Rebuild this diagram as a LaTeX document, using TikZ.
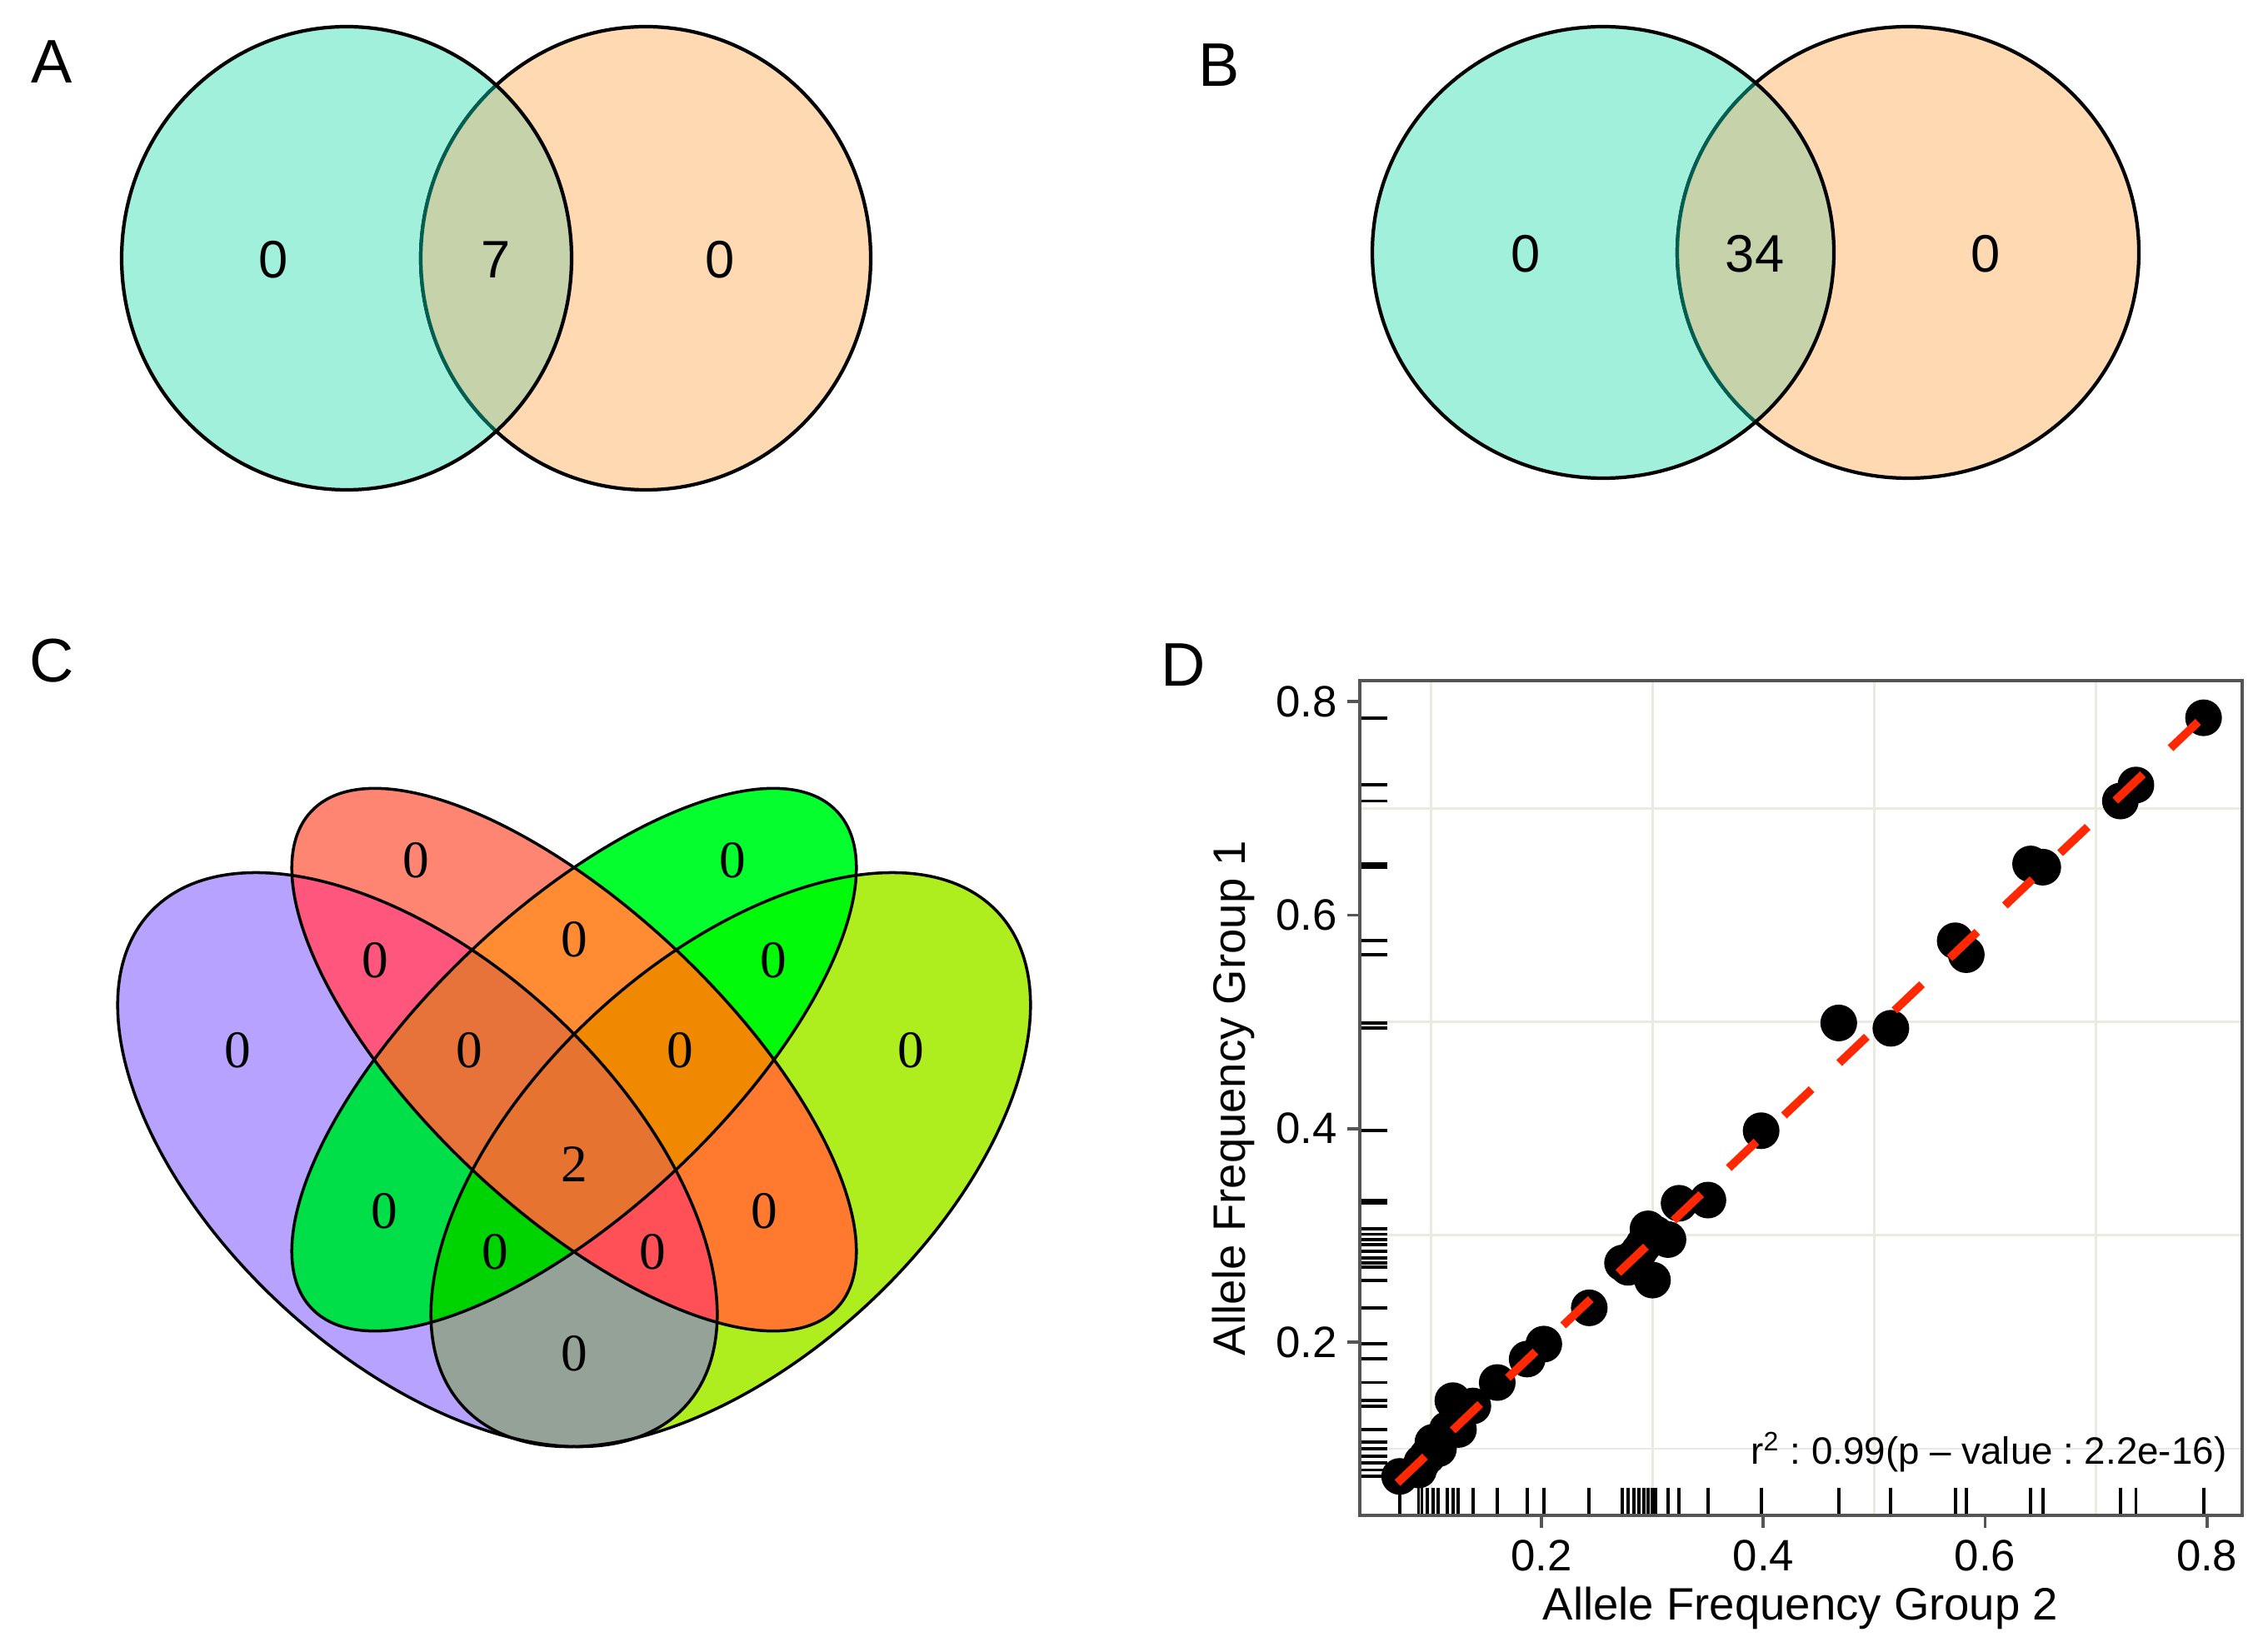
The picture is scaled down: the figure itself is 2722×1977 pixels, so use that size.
\documentclass[tikz,border=0pt]{standalone}
\usepackage{fontspec}
\setmainfont{Liberation Sans}
\newfontfamily\vennserif{Liberation Serif}
\usetikzlibrary{positioning}

% two-set colours
\definecolor{tealA}{RGB}{160,240,220}
\definecolor{peachA}{RGB}{255,217,178}
\definecolor{lensA}{RGB}{197,210,170}
\definecolor{lensedge}{RGB}{0,95,80}
% four-set colours
\definecolor{cP}{RGB}{183,162,255}
\definecolor{cR}{RGB}{255,133,115}
\definecolor{cG}{RGB}{5,255,46}
\definecolor{cY}{RGB}{174,238,30}
\definecolor{cPR}{RGB}{255,86,126}
\definecolor{cPG}{RGB}{0,222,72}
\definecolor{cPY}{RGB}{148,162,152}
\definecolor{cRG}{RGB}{255,140,50}
\definecolor{cRY}{RGB}{255,122,46}
\definecolor{cGY}{RGB}{0,250,10}
\definecolor{cPRG}{RGB}{232,115,58}
\definecolor{cPRY}{RGB}{255,80,88}
\definecolor{cPGY}{RGB}{0,212,0}
\definecolor{cRGY}{RGB}{240,136,0}
\definecolor{cAll}{RGB}{230,115,47}
% plot colours
\definecolor{gridc}{RGB}{234,234,224}
\definecolor{framec}{RGB}{85,85,85}
\definecolor{fitc}{RGB}{255,40,0}

\tikzset{
  panel/.style={font=\fontsize{21}{25}\selectfont, inner sep=0pt},
  vnum/.style={font=\fontsize{18}{21}\selectfont, inner sep=0pt},
  cnum/.style={font=\vennserif\fontsize{18}{21}\selectfont, inner sep=0pt},
  ticklab/.style={font=\fontsize{15}{18}\selectfont, inner sep=0pt},
  axtitle/.style={font=\fontsize{15.5}{18}\selectfont, inner sep=0pt},
  vline/.style={line width=1.2pt, black},
  cline/.style={draw=black, line width=1pt},
  gridln/.style={line width=0.8pt, gridc},
  rugln/.style={line width=1.1pt, black},
  frameln/.style={line width=1.1pt, framec},
  fitln/.style={line width=2.8pt, fitc, dash pattern=on 13pt off 13pt},
}

% two circles: left x, right x, y, x radius, y radius
\newcommand{\twovenn}[5]{%
  \fill[peachA] (#2,#3) ellipse [x radius=#4, y radius=#5];
  \fill[tealA] (#1,#3) ellipse [x radius=#4, y radius=#5];
  \draw[vline] (#2,#3) ellipse [x radius=#4, y radius=#5];
  \begin{scope}
    \clip (#1,#3) ellipse [x radius=#4, y radius=#5];
    \fill[lensA] (#2,#3) ellipse [x radius=#4, y radius=#5];
    \draw[vline, lensedge] (#2,#3) ellipse [x radius=#4, y radius=#5];
  \end{scope}
  \draw[vline] (#1,#3) ellipse [x radius=#4, y radius=#5];
}

% the four ellipses of panel C
\newcommand{\ellP}[1][]{\path[#1, rotate around={-42.7:(501,1392)}] (501,1392) ellipse [x radius=437, y radius=239];}
\newcommand{\ellR}[1][]{\path[#1, rotate around={-43.4:(689,1272)}] (689,1272) ellipse [x radius=434, y radius=180];}
\newcommand{\ellG}[1][]{\path[#1, rotate around={43.4:(689,1272)}] (689,1272) ellipse [x radius=434, y radius=180];}
\newcommand{\ellY}[1][]{\path[#1, rotate around={42.7:(877,1392)}] (877,1392) ellipse [x radius=437, y radius=239];}

\newcommand{\snpdata}{0.072/0.074, 0.089/0.080, 0.092/0.087, 0.097/0.093, 0.102/0.106,
  0.107/0.100, 0.115/0.118, 0.120/0.145, 0.125/0.118, 0.138/0.140, 0.160/0.162,
  0.187/0.184, 0.202/0.198, 0.243/0.232, 0.273/0.274, 0.278/0.270, 0.283/0.279,
  0.288/0.285, 0.292/0.291, 0.296/0.306, 0.300/0.258, 0.303/0.301, 0.314/0.296,
  0.324/0.330, 0.350/0.333, 0.398/0.398, 0.468/0.499, 0.515/0.494, 0.573/0.576,
  0.583/0.563, 0.641/0.648, 0.652/0.645, 0.722/0.707, 0.736/0.722, 0.797/0.785}

\begin{document}
\begin{tikzpicture}[x=0.01cm, y=-0.01cm]
  \useasboundingbox (0,0) rectangle (2722,1977);
  \fill[white] (0,0) rectangle (2722,1977);

  % panel labels
  \node[panel] (labA) at (62,74) {A};
  \node[panel] (labB) at (1463,78) {B};
  \node[panel] (labC) at (62,793) {C};
  \node[panel] (labD) at (1420,798) {D};

  % A
  \twovenn{416}{775}{310}{270}{278}
  \node[vnum] (a1) at (328,312) {0};
  \node[vnum] (a2) at (595,312) {7};
  \node[vnum] (a3) at (864,312) {0};

  % B
  \twovenn{1924}{2290}{303}{277}{271}
  \node[vnum] (b1) at (1831,305) {0};
  \node[vnum] (b2) at (2106,305) {34};
  \node[vnum] (b3) at (2383,305) {0};

  % C
  \ellP[fill=cP] \ellR[fill=cR] \ellG[fill=cG] \ellY[fill=cY]
  \begin{scope}\ellP[clip]\ellR[fill=cPR]\end{scope}
  \begin{scope}\ellP[clip]\ellG[fill=cPG]\end{scope}
  \begin{scope}\ellP[clip]\ellY[fill=cPY]\end{scope}
  \begin{scope}\ellR[clip]\ellG[fill=cRG]\end{scope}
  \begin{scope}\ellR[clip]\ellY[fill=cRY]\end{scope}
  \begin{scope}\ellG[clip]\ellY[fill=cGY]\end{scope}
  \begin{scope}\ellP[clip]\ellR[clip]\ellG[fill=cPRG]\end{scope}
  \begin{scope}\ellP[clip]\ellR[clip]\ellY[fill=cPRY]\end{scope}
  \begin{scope}\ellP[clip]\ellG[clip]\ellY[fill=cPGY]\end{scope}
  \begin{scope}\ellR[clip]\ellG[clip]\ellY[fill=cRGY]\end{scope}
  \begin{scope}\ellP[clip]\ellR[clip]\ellG[clip]\ellY[fill=cAll]\end{scope}
  \ellP[cline] \ellR[cline] \ellG[cline] \ellY[cline]

  \node[cnum] (c1) at (285,1261) {0};
  \node[cnum] (c2) at (499,1033) {0};
  \node[cnum] (c3) at (879,1033) {0};
  \node[cnum] (c4) at (1093,1261) {0};
  \node[cnum] (c5) at (450,1153) {0};
  \node[cnum] (c6) at (689,1128) {0};
  \node[cnum] (c7) at (928,1153) {0};
  \node[cnum] (c8) at (563,1261) {0};
  \node[cnum] (c9) at (816,1261) {0};
  \node[cnum] (c10) at (689,1398) {2};
  \node[cnum] (c11) at (461,1454) {0};
  \node[cnum] (c12) at (917,1454) {0};
  \node[cnum] (c13) at (594,1503) {0};
  \node[cnum] (c14) at (783,1503) {0};
  \node[cnum] (c15) at (689,1625) {0};

  % D
  \begin{scope}[shift={(1584,1867)}, x=13.3cm, y=12.8cm]
    \foreach \g in {0.1,0.3,0.5,0.7} {
      \draw[gridln] (\g,0.0375) -- (\g,0.8195);
      \draw[gridln] (0.0361,\g) -- (0.8316,\g);
    }
    \foreach \px/\py in \snpdata {
      \draw[rugln] (\px,0.0375) -- ++(0,0.33cm);
      \draw[rugln] (0.0361,\py) -- ++(0.33cm,0);
    }
    \foreach \px/\py in \snpdata
      \fill (\px,\py) circle [radius=0.22cm];
    \draw[fitln] (0.070,0.068) -- (0.797,0.786);
    \draw[frameln] (0.0361,0.0375) rectangle (0.8316,0.8195);
    \foreach \v/\n in {0.2/2,0.4/4,0.6/6,0.8/8} {
      \draw[frameln] (\v,0.0375) -- ++(0,-0.15cm);
      \draw[frameln] (0.0361,\v) -- ++(-0.15cm,0);
      \node[ticklab, anchor=north] (xt\n) at ([yshift=-0.29cm]\v,0.0375) {\v};
      \node[ticklab, anchor=east] (yt\n) at ([xshift=-0.27cm]0.0361,\v) {\v};
    }
  \end{scope}
  \node[font=\fontsize{13}{15}\selectfont, inner sep=0pt, anchor=base east] (rsq)
    at (2673,1757) {r\textsuperscript{2}\;:\;0.99(p\;–\;value\;:\;2.2e-16)};
  \node[axtitle] (xtitle) at (2161,1930) {Allele Frequency Group 2};
  \node[axtitle, rotate=90] (ytitle) at (1480,1318) {Allele Frequency Group 1};
\end{tikzpicture}
\end{document}
